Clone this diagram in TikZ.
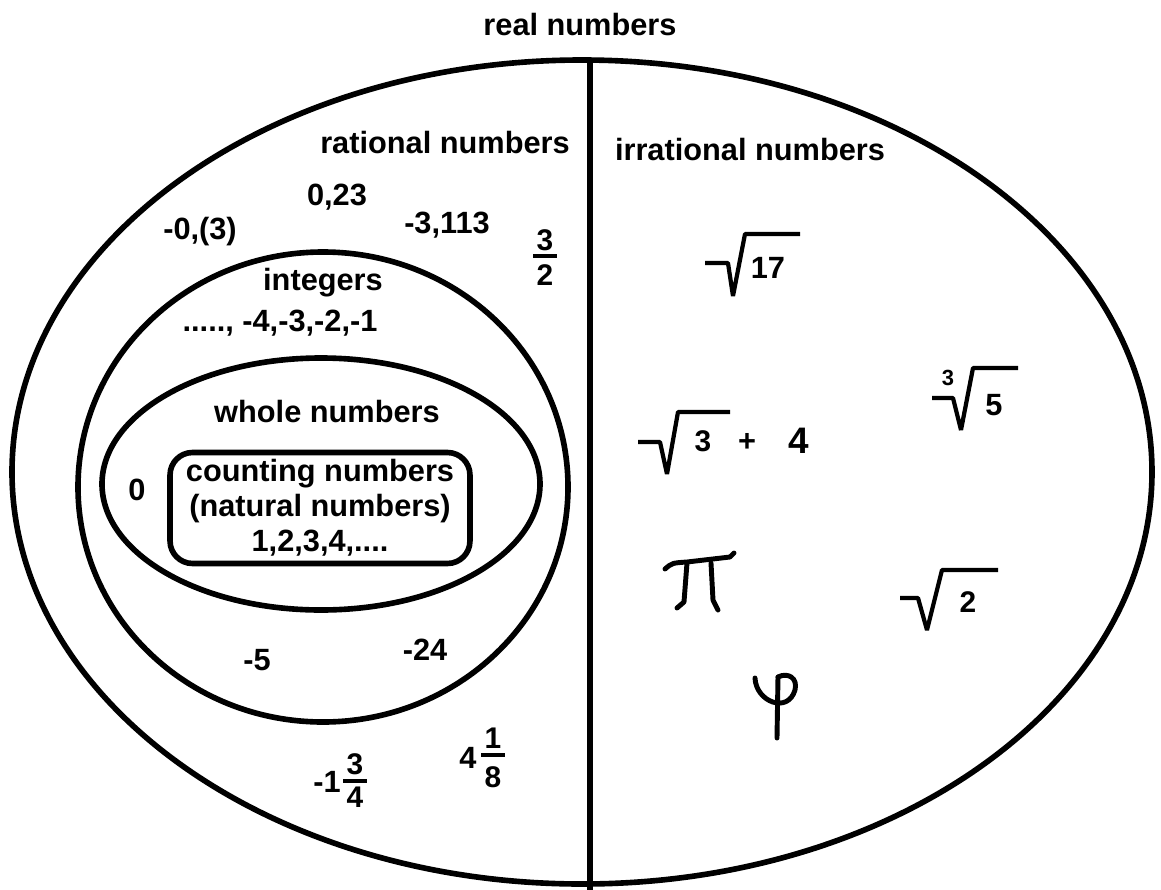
\documentclass[tikz,border=0pt]{standalone}
\usepackage{fontspec}
\setmainfont{Liberation Sans}
\usetikzlibrary{positioning}

\begin{document}
\begin{tikzpicture}[x=0.02cm,y=-0.02cm,
  set/.style={line width=3.2pt},
  lbl/.style={font=\fontsize{17.5}{19.8}\selectfont\bfseries,inner sep=0pt},
  fig/.style={font=\fontsize{17}{19}\selectfont\bfseries,inner sep=0pt},
  root/.style={line width=2.4pt,line join=bevel},
  hand/.style={line width=2.8pt,line cap=round,line join=round}]
  \useasboundingbox (0,0) rectangle (1161,890);
  % Sets
  \draw[set] (582,472) ellipse [x radius=570,y radius=412];
  \coordinate (divtop) at (590,60);
  \coordinate (divbot) at (590,890);
  \draw[set] (divtop) -- (divbot);
  \draw[set] (323,487) ellipse [x radius=245,y radius=235];
  \draw[set] (321,484) ellipse [x radius=219,y radius=126];
  \node[lbl,draw,set,rounded corners=0.45cm,minimum width=6cm,minimum height=2.22cm,align=center]
    (counting) at (320,508) {counting numbers\\(natural numbers)\\1,2,3,4,....};
  % Set names
  \node[lbl] (real) at (580,25) {real numbers};
  \node[lbl] (rational) at (445,143) {rational numbers};
  \node[lbl] (irrational) at (750,150) {irrational numbers};
  \node[lbl] (integers) at (323,283) {integers};
  \node[lbl] (whole) at (327,412) {whole numbers};
  % Rational examples
  \node[lbl] (dec1) at (337,197) {0,23};
  \node[lbl] (dec2) at (200,232) {-0,(3)};
  \node[lbl] (dec3) at (447,225) {-3,113};
  \node[lbl] (negs) at (280,323) {....., -4,-3,-2,-1};
  \node[lbl] (zero) at (137,490) {0};
  \node[lbl] (mfive) at (257,660) {-5};
  \node[lbl] (mtwentyfour) at (425,650) {-24};
  \node[lbl] (mone) at (327,782) {-1};
  \node[lbl] (four) at (468,758) {4};
  % Fractions
  \foreach \n/\a/\b/\x/\ya/\yb/\yc in {fa/3/2/545/240/256/275, fb/3/4/355/764/781/797, fc/1/8/493/738/755/777} {
    \node[fig] (\n-num) at (\x,\ya) {\a};
    \node[fig] (\n-den) at (\x,\yc) {\b};
    \draw[line width=2.2pt] (\x-12,\yb) -- (\x+12,\yb);
  }
  % Roots
  \draw[root] (705,263) -- (728,263) -- (733,296) -- (745,234) -- (800,234);
  \node[lbl] (rad17) at (768,268) {17};
  \draw[root] (638,442) -- (660,442) -- (667,474) -- (678,412) -- (730,412);
  \node[fig] (rad3) at (703,441) {3};
  \node[lbl] (plus) at (747,442) {+};
  \node[lbl,font=\fontsize{21}{24}\selectfont\bfseries] (plusfour) at (799,441) {4};
  \draw[root] (932,398) -- (953,398) -- (961,430) -- (973,368) -- (1018,368);
  \node[lbl,font=\fontsize{12.5}{14}\selectfont\bfseries] (index) at (948,378) {3};
  \node[lbl] (rad5) at (994,405) {5};
  \draw[root] (900,598) -- (918,598) -- (927,630) -- (942,570) -- (998,570);
  \node[fig] (rad2) at (968,602) {2};
  % Pi and phi, hand drawn
  \draw[hand] (665,569) .. controls (672,563) .. (687,562) -- (730,557) -- (734,553);
  \draw[hand] (687,563) -- (684,602) -- (677,608);
  \draw[hand] (711,563) -- (713,600) -- (718,610);
  \draw[hand] (755,678) .. controls (756,702) and (788,714) .. (795,690)
    .. controls (798,678) and (788,672) .. (778,677);
  \draw[hand] (778,677) -- (777,738);
\end{tikzpicture}
\end{document}
